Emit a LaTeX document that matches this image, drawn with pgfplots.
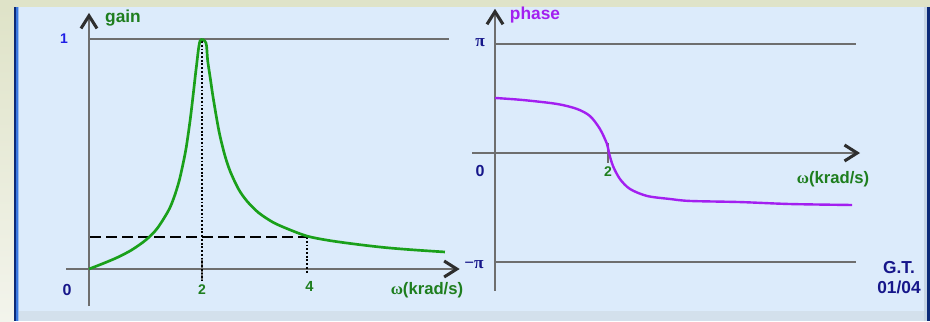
\documentclass[border=0pt]{standalone}
\usepackage{fontspec}
\setmainfont{Liberation Sans}
\newfontfamily\greekfont{Liberation Serif}
\usepackage{pgfplots}
\pgfplotsset{compat=1.18}

\definecolor{frame}{HTML}{DFE3C8}
\definecolor{framelight}{HTML}{F3F4EC}
\definecolor{panel}{HTML}{DCEBFB}
\definecolor{strip}{HTML}{D3E0EC}
\definecolor{edgegray}{HTML}{C6D5E4}
\definecolor{navyedge}{HTML}{0C2A78}
\definecolor{blueedge}{HTML}{3A78E0}
\definecolor{navy}{HTML}{16168A}
\definecolor{brightblue}{HTML}{1E1EE6}
\definecolor{curvegreen}{HTML}{1AA01A}
\definecolor{textgreen}{HTML}{1E7E1E}
\definecolor{violet}{HTML}{A31FF0}
\definecolor{axisgray}{HTML}{6E6E6E}
\definecolor{arrowgray}{HTML}{2E2E2E}

\newcommand\lbl[1]{\fontsize{#1}{#1}\selectfont\bfseries}
% open chevron heads at the end of the axes
\newcommand\uphead[1]{\draw[arrowgray, line width=2.3pt, miter limit=20]
  ([xshift=-6pt,yshift=-9.5pt]#1) -- (#1) -- ([xshift=6pt,yshift=-9.5pt]#1);}
\newcommand\righthead[1]{\draw[arrowgray, line width=2.3pt, miter limit=20]
  ([xshift=-9.5pt,yshift=6pt]#1) -- (#1) -- ([xshift=-9.5pt,yshift=-6pt]#1);}

\tikzset{
  axisline/.style={axisgray, line width=1.3pt},
  dots/.style={black, line width=1.5pt, dash pattern=on 1.4pt off 1.4pt},
}
\pgfplotsset{
  sketch/.style={scale only axis, axis lines=none, clip=false,
    xmin=0, xmax=6.5, width=275.4375pt, anchor=south west},
}

\begin{document}
\begin{tikzpicture}
% frame and panel, in pixel units
\begin{scope}[x=0.75pt,y=-0.75pt]
  \fill[frame] (0,0) rectangle (930,321);
  \shade[top color=frame, bottom color=framelight] (0,7) rectangle (14,321);
  \fill[panel] (17,7) rectangle (924,311);
  \fill[strip] (17,311) rectangle (924,321);
  \fill[edgegray] (924,7) rectangle (927,321);
  \fill[navyedge] (927,7) rectangle (930,321);
  \fill[navyedge] (14,7) rectangle (16,321);
  \fill[blueedge] (16,7) rectangle (17.5,321);
  \fill[blueedge!40!panel] (17.5,7) rectangle (19,321);

  % labels of the gain diagram
  \node[textgreen] at (123,18) {\lbl{13}gain};
  \node[brightblue] at (64,39) {\lbl{10.5}1};
  \node[navy] at (67,290) {\lbl{12}0};
  \node[textgreen] at (427,290) {\lbl{12.5}{\greekfont ω}(krad/s)};

  % labels of the phase diagram
  \node[violet] at (535,15) {\lbl{13}phase};
  \node[navy] at (480,43) {\lbl{13}\greekfont π};
  \node[navy] at (480,171) {\lbl{12}0};
  \node[navy] at (474,265) {\lbl{13}\greekfont −π};
  \node[textgreen] at (833,179) {\lbl{12.5}{\greekfont ω}(krad/s)};
  \node[navy] at (899,268) {\lbl{13}G.T.};
  \node[navy] at (899,287) {\lbl{13}01/04};
\end{scope}

% gain
\begin{axis}[sketch, height=172.5pt, ymin=0, ymax=1, at={(66.75pt,-201.75pt)}]
  \draw[axisline] (axis cs:0,1) -- (axis cs:6.37,1);
  \draw[axisline] (axis cs:-0.407,0) -- (axis cs:6.48,0);
  \draw[axisline] (axis cs:0,-0.161) -- (axis cs:0,1.09);
  \uphead{axis cs:0,1.101}
  \righthead{axis cs:6.51,0}
  \draw[axisgray, line width=1.6pt] (axis cs:2,0.048) -- (axis cs:2,-0.048);
  \draw[black, line width=1.3pt, dash pattern=on 8pt off 4pt]
    (axis cs:0.02,0.139) -- (axis cs:3.86,0.139);
  \draw[dots] (axis cs:2,0.991) -- (axis cs:2,-0.048);
  \draw[dots] (axis cs:3.86,0.139) -- (axis cs:3.86,-0.017);
  \addplot[curvegreen, line width=2pt, smooth, tension=0.5] coordinates {
    (0,0) (0.25,0.024) (0.5,0.050) (0.75,0.082) (1.0,0.125) (1.2,0.174)
    (1.4,0.251) (1.5,0.308) (1.6,0.387) (1.7,0.500) (1.75,0.576)
    (1.8,0.666) (1.85,0.771) (1.9,0.878) (1.965,0.991) (2.07,0.983)
    (2.1,0.907) (2.15,0.824) (2.2,0.741) (2.3,0.600) (2.4,0.498)
    (2.5,0.424) (2.65,0.346) (2.8,0.294) (3.0,0.245) (3.25,0.204)
    (3.5,0.176) (3.86,0.143) (4.25,0.124) (4.75,0.107) (5.25,0.093)
    (5.75,0.083) (6.3,0.074)
  };
  \node[textgreen] at (axis cs:2,-0.091) {\lbl{10.5}2};
  \node[textgreen] at (axis cs:3.90,-0.078) {\lbl{11}4};
\end{axis}

% phase, in units of pi
\begin{axis}[sketch, height=163.5pt, ymin=-1, ymax=1, at={(371.25pt,-196.5pt)}]
  \draw[axisline] (axis cs:0,1) -- (axis cs:6.39,1);
  \draw[axisline] (axis cs:0,-1) -- (axis cs:6.39,-1);
  \draw[axisline] (axis cs:-0.407,0) -- (axis cs:6.38,0);
  \draw[axisline] (axis cs:0,-1.266) -- (axis cs:0,1.28);
  \uphead{axis cs:0,1.297}
  \righthead{axis cs:6.41,0}
  \draw[axisgray, line width=1.6pt] (axis cs:2,0.092) -- (axis cs:2,-0.092);
  \addplot[violet, line width=1.8pt, smooth, tension=0.5] coordinates {
    (0,0.505) (0.496,0.486) (1.097,0.450) (1.451,0.404) (1.681,0.339)
    (1.858,0.220) (1.982,0.083) (2.018,0) (2.088,-0.119) (2.212,-0.239)
    (2.389,-0.330) (2.690,-0.394) (3.097,-0.422) (3.451,-0.440)
    (4.336,-0.450) (5.221,-0.468) (6.319,-0.477)
  };
  \node[textgreen] at (axis cs:2,-0.174) {\lbl{10.5}2};
\end{axis}
\end{tikzpicture}
\end{document}
